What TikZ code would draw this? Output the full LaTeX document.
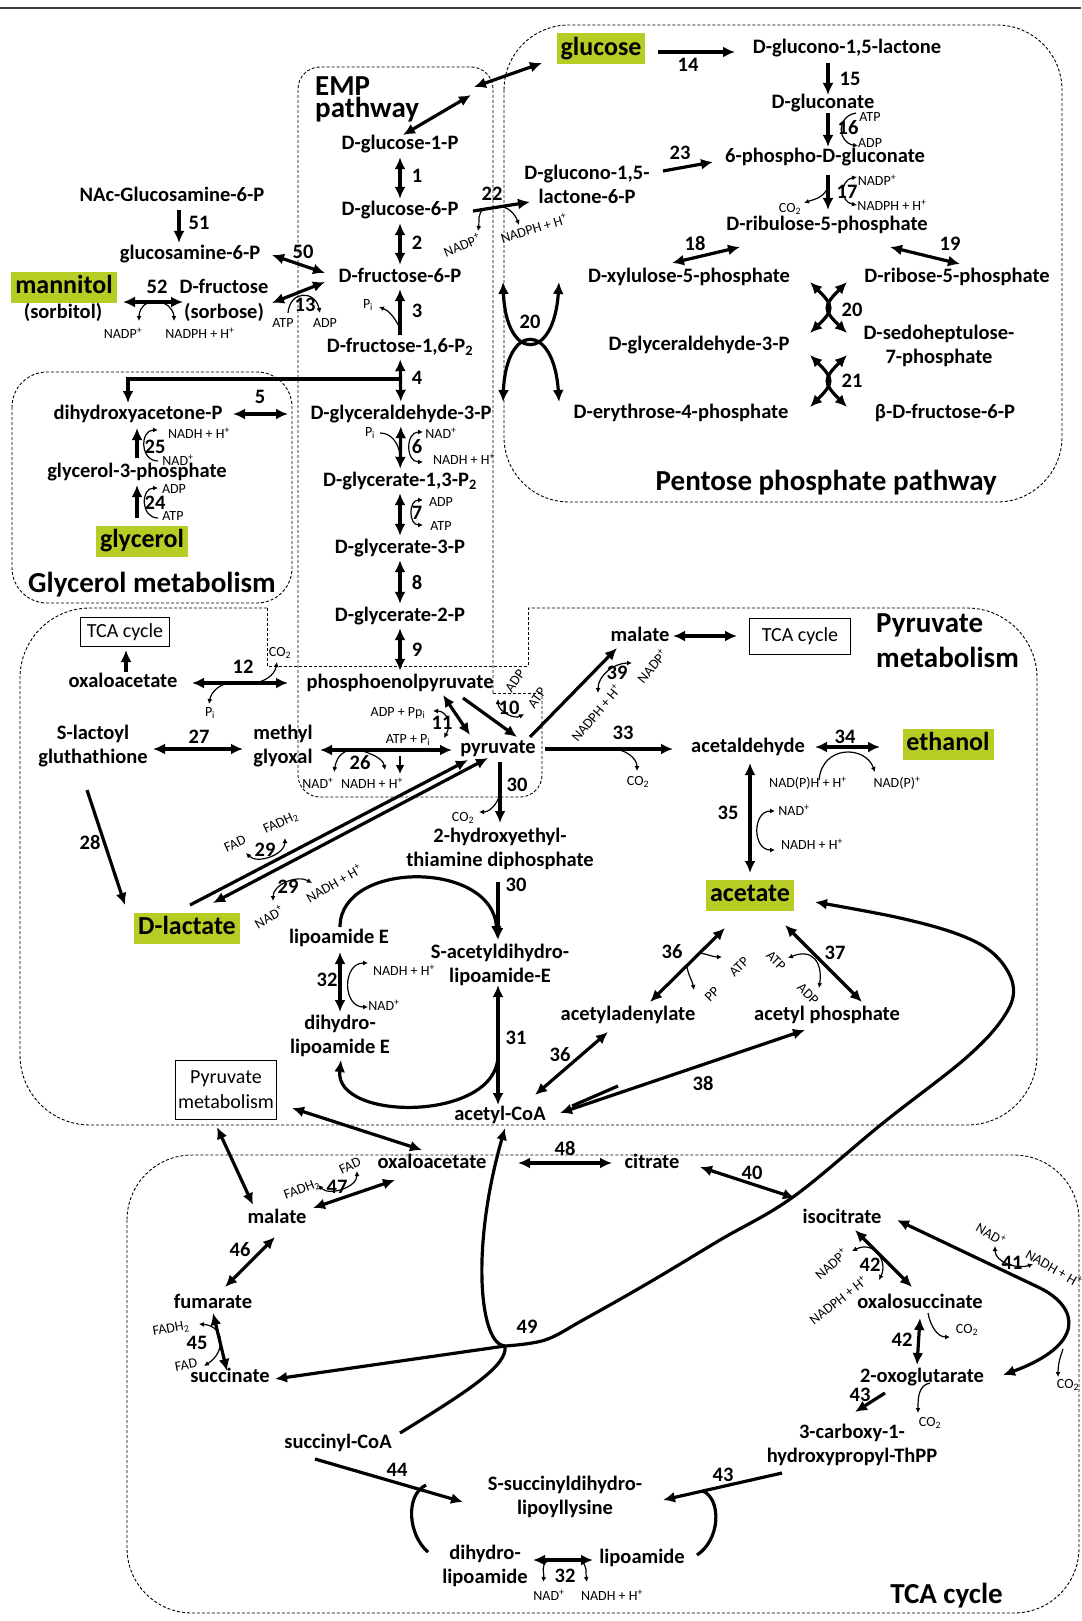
\documentclass[tikz,border=0pt]{standalone}
\usepackage{fontspec}
\setmainfont{Carlito}
\usetikzlibrary{arrows.meta}
\definecolor{prodgreen}{RGB}{184,204,38}
\tikzset{
    met/.style = {font=\bfseries\fontsize{20.5}{23}\selectfont, inner sep=1pt, text height=14pt, text depth=4pt},
    met-two/.style = {font=\bfseries\fontsize{20.5}{24}\selectfont, inner sep=1pt, align=center},
    prod/.style = {fill=prodgreen, font=\bfseries\fontsize{26}{28}\selectfont, inner xsep=4pt, inner ysep=4pt, text height=18pt, text depth=5pt},
    num/.style = {font=\bfseries\fontsize{20.5}{23}\selectfont, inner sep=0pt},
    cof/.style = {font=\fontsize{14}{15}\selectfont, inner sep=0pt},
    area/.style = {font=\bfseries\fontsize{29}{31}\selectfont, inner sep=0pt},
    ref-box/.style = {draw, line width=0.9pt, font=\fontsize{20}{25}\selectfont, inner sep=1pt, align=center},
    zone/.style = {dash pattern=on 3pt off 2pt, line width=0.9pt, black},
    fw/.style = {-{Latex[length=12pt,width=11pt]}, line width=3.2pt},
    bw/.style = {{Latex[length=12pt,width=11pt]}-{Latex[length=12pt,width=11pt]}, line width=3.2pt},
    side/.style = {-{Latex[length=5pt,width=5pt]}, line width=1.2pt},
    sides/.style = {{Latex[length=5pt,width=5pt]}-{Latex[length=5pt,width=5pt]}, line width=1.2pt},
}

\begin{document}
\begin{tikzpicture}[x=1pt, y=-1pt]
\useasboundingbox (0,0) rectangle (1081,1621);
\draw[line width=1.8pt, black!75] (0,8) -- (1081,8);

\draw[zone, rounded corners=65pt] (504,25) rectangle (1062,502);
\draw[zone, rounded corners=22pt] (493,693) -- (493,67) -- (298,67) -- (298,797) -- (542,797) -- (542,693);
\draw[zone] (493,693) -- (542,693);
\draw[zone, rounded corners=35pt] (12,372) rectangle (292,603);
\draw[zone, rounded corners=70pt] (267,608) -- (20,608) -- (20,1125) -- (1037,1125) -- (1037,608) -- (528,608);
\draw[zone] (267,608) -- (267,666) -- (528,666) -- (528,608);
\draw[zone, rounded corners=65pt] (127,1155) rectangle (1079,1613);

\node[area, anchor=base west] (temp1) at (315,96) {EMP};
\node[area, anchor=base west] (temp2) at (315,118) {pathway};
\node[area, anchor=base] (tglyc) at (152,592) {Glycerol metabolism};
\node[area, anchor=base east] (tppp) at (997,490) {Pentose phosphate pathway};
\node[area, anchor=base west] (tpyr1) at (876,632) {Pyruvate};
\node[area, anchor=base west] (tpyr2) at (876,667) {metabolism};
\node[area, anchor=base east] (ttca) at (1003,1603) {TCA cycle};

\node[met] (g1p) at (400,145) {D-glucose-1-P};
\node[met] (g6p) at (400,211) {D-glucose-6-P};
\node[met] (f6p) at (400,277) {D-fructose-6-P};
\node[met] (fbp) at (400,347) {D-fructose-1,6-P\textsubscript{2}};
\node[met] (gap) at (401,414) {D-glyceraldehyde-3-P};
\node[met] (bpg) at (400,481) {D-glycerate-1,3-P\textsubscript{2}};
\node[met] (pg3) at (400,548) {D-glycerate-3-P};
\node[met] (pg2) at (400,616) {D-glycerate-2-P};
\node[met] (pep) at (400,683) {phosphoenolpyruvate};
\node[met] (pyr) at (498,748) {pyruvate};

\node[met] (nacg) at (172,197) {NAc-Glucosamine-6-P};
\node[met] (gam6p) at (190,255) {glucosamine-6-P};
\node[prod] (mtl) at (64,287) {mannitol};
\node[met] (sorbitol) at (63,313) {(sorbitol)};
\node[met] (fru) at (224,288) {D-fructose};
\node[met] (sorbose) at (224,313) {(sorbose)};
\node[met] (dhap) at (138,414) {dihydroxyacetone-P};
\node[met] (gro3p) at (137,472) {glycerol-3-phosphate};
\node[prod] (glyc) at (142,541) {glycerol};

\node[prod] (glc) at (601,49) {glucose};
\node[met] (gl15) at (847,49) {D-glucono-1,5-lactone};
\node[met] (glcn) at (823,104) {D-gluconate};
\node[met] (pgl) at (825,158) {6-phospho-D-gluconate};
\node[met] (ru5p) at (827,226) {D-ribulose-5-phosphate};
\node[met-two] (gl6p) at (587,184) {D-glucono-1,5-\\lactone-6-P};
\node[met] (xu5p) at (689,278) {D-xylulose-5-phosphate};
\node[met] (r5p) at (957,278) {D-ribose-5-phosphate};
\node[met] (gapR) at (699,345) {D-glyceraldehyde-3-P};
\node[met-two] (s7p) at (939,346) {D-sedoheptulose-\\7-phosphate};
\node[met] (e4p) at (681,413) {D-erythrose-4-phosphate};
\node[met] (bf6p) at (945,413) {β-D-fructose-6-P};

\node[ref-box, minimum width=89pt, minimum height=29pt] (tcaA) at (125,632) {TCA cycle};
\node[met] (oaaA) at (123,682) {oxaloacetate};
\node[met-two] (slg) at (93,746) {S-lactoyl\\gluthathione};
\node[met-two] (mgo) at (283,746) {methyl\\glyoxal};
\node[prod] (dlac) at (187,928) {D-lactate};
\node[met] (mal1) at (640,636) {malate};
\node[ref-box, minimum width=101pt, minimum height=36pt] (tcaB) at (800,636) {TCA cycle};
\node[met] (acald) at (748,747) {acetaldehyde};
\node[prod] (etoh) at (948,744) {ethanol};
\node[prod] (ace) at (750,895) {acetate};
\node[met-two] (hetpp) at (500,849) {2-hydroxyethyl-\\thiamine diphosphate};
\node[met] (lipE) at (339,938) {lipoamide E};
\node[met-two] (sacl) at (500,965) {S-acetyldihydro-\\lipoamide-E};
\node[met-two] (dhlE) at (340,1036) {dihydro-\\lipoamide E};
\node[met] (acadn) at (628,1015) {acetyladenylate};
\node[met] (acp) at (827,1015) {acetyl phosphate};
\node[met] (accoa) at (500,1115) {acetyl-CoA};
\node[ref-box, minimum width=101pt, minimum height=59pt] (pmb) at (226,1090) {Pyruvate\\metabolism};

\node[met] (oaa) at (432,1163) {oxaloacetate};
\node[met] (cit) at (652,1163) {citrate};
\node[met] (icit) at (842,1218) {isocitrate};
\node[met] (mal) at (277,1218) {malate};
\node[met] (fum) at (213,1303) {fumarate};
\node[met] (succ) at (230,1377) {succinate};
\node[met] (oxs) at (920,1303) {oxalosuccinate};
\node[met] (akg) at (922,1377) {2-oxoglutarate};
\node[met] (scoa) at (338,1443) {succinyl-CoA};
\node[met-two] (cthpp) at (852,1445) {3-carboxy-1-\\hydroxypropyl-ThPP};
\node[met-two] (ssdl) at (565,1497) {S-succinyldihydro-\\lipoyllysine};
\node[met-two] (dhl) at (485,1566) {dihydro-\\lipoamide};
\node[met] (lip) at (642,1558) {lipoamide};

\node[num] (n1) at (417,176) {1};
\node[num] (n2) at (417,243) {2};
\node[num] (n3) at (417,311) {3};
\node[num] (n4) at (417,378) {4};
\node[num] (n5) at (260,397) {5};
\node[num] (n6) at (417,447) {6};
\node[num] (n7) at (417,513) {7};
\node[num] (n8) at (417,582) {8};
\node[num] (n9) at (417,650) {9};
\node[num] (n10) at (509,708) {10};
\node[num] (n11) at (442,723) {11};
\node[num] (n12) at (243,667) {12};
\node[num] (n13) at (305,305) {13};
\node[num] (n14) at (688,65) {14};
\node[num] (n15) at (850,79) {15};
\node[num] (n16) at (848,128) {16};
\node[num] (n17) at (847,192) {17};
\node[num] (n18) at (695,243) {18};
\node[num] (n19) at (950,244) {19};
\node[num] (n20a) at (530,322) {20};
\node[num] (n20b) at (852,310) {20};
\node[num] (n21) at (852,381) {21};
\node[num] (n22) at (492,194) {22};
\node[num] (n23) at (680,153) {23};
\node[num] (n24) at (155,503) {24};
\node[num] (n25) at (155,447) {25};
\node[num] (n26) at (360,763) {26};
\node[num] (n27) at (199,737) {27};
\node[num] (n28) at (90,842) {28};
\node[num] (n29a) at (265,850) {29};
\node[num] (n29b) at (288,887) {29};
\node[num] (n30a) at (517,785) {30};
\node[num] (n30b) at (516,885) {30};
\node[num] (n31) at (516,1038) {31};
\node[num] (n32a) at (327,980) {32};
\node[num] (n33) at (623,733) {33};
\node[num] (n34) at (845,737) {34};
\node[num] (n35) at (728,813) {35};
\node[num] (n36a) at (672,952) {36};
\node[num] (n36b) at (560,1055) {36};
\node[num] (n37) at (835,953) {37};
\node[num] (n38) at (703,1083) {38};
\node[num] (n39) at (617,673) {39};
\node[num] (n40) at (752,1173) {40};
\node[num] (n41) at (1012,1263) {41};
\node[num] (n42a) at (870,1265) {42};
\node[num] (n42b) at (902,1340) {42};
\node[num] (n43a) at (860,1395) {43};
\node[num] (n43b) at (723,1475) {43};
\node[num] (n44) at (397,1470) {44};
\node[num] (n45) at (197,1343) {45};
\node[num] (n46) at (240,1250) {46};
\node[num] (n47) at (337,1187) {47};
\node[num] (n48) at (565,1148) {48};
\node[num] (n49) at (527,1327) {49};
\node[num] (n50) at (303,252) {50};
\node[num] (n51) at (199,223) {51};
\node[num] (n52) at (157,287) {52};
\node[num] (n32b) at (565,1576) {32};

\node[cof] (c52a) at (123,333) {NADP\textsuperscript{+}};
\node[cof] (c52b) at (200,333) {NADPH + H\textsuperscript{+}};
\node[cof] (c13a) at (283,323) {ATP};
\node[cof] (c13b) at (325,323) {ADP};
\node[cof] (c3) at (368,305) {P\textsubscript{i}};
\node[cof, rotate=22] (c22a) at (462,245) {NADP\textsuperscript{+}};
\node[cof, rotate=17] (c22b) at (534,228) {NADPH + H\textsuperscript{+}};
\node[cof] (c16a) at (870,117) {ATP};
\node[cof] (c16b) at (870,143) {ADP};
\node[cof] (c17a) at (877,180) {NADP\textsuperscript{+}};
\node[cof] (c17b) at (892,205) {NADPH + H\textsuperscript{+}};
\node[cof] (c17c) at (790,209) {CO\textsubscript{2}};
\node[cof] (c25a) at (199,433) {NADH + H\textsuperscript{+}};
\node[cof] (c25b) at (178,460) {NAD\textsuperscript{+}};
\node[cof] (c24a) at (174,489) {ADP};
\node[cof] (c24b) at (173,516) {ATP};
\node[cof] (c6a) at (370,433) {P\textsubscript{i}};
\node[cof] (c6b) at (441,433) {NAD\textsuperscript{+}};
\node[cof] (c6c) at (464,459) {NADH + H\textsuperscript{+}};
\node[cof] (c7a) at (441,502) {ADP};
\node[cof] (c7b) at (441,526) {ATP};
\node[cof] (c12a) at (280,653) {CO\textsubscript{2}};
\node[cof] (c12b) at (210,713) {P\textsubscript{i}};
\node[cof, rotate=55] (c10a) at (515,681) {ADP};
\node[cof, rotate=55] (c10b) at (537,698) {ATP};
\node[cof] (c11a) at (398,713) {ADP + Pp\textsubscript{i}};
\node[cof] (c11b) at (408,740) {ATP + P\textsubscript{i}};
\node[cof] (c26a) at (318,783) {NAD\textsuperscript{+}};
\node[cof] (c26b) at (372,783) {NADH + H\textsuperscript{+}};
\node[cof] (c33) at (638,782) {CO\textsubscript{2}};
\node[cof, rotate=50] (c39a) at (652,666) {NADP\textsuperscript{+}};
\node[cof, rotate=50] (c39b) at (596,713) {NADPH + H\textsuperscript{+}};
\node[cof] (c34a) at (808,783) {NAD(P)H + H\textsuperscript{+}};
\node[cof] (c34b) at (897,783) {NAD(P)\textsuperscript{+}};
\node[cof] (c30) at (463,818) {CO\textsubscript{2}};
\node[cof, rotate=25] (c29a) at (235,844) {FAD};
\node[cof, rotate=25] (c29b) at (281,823) {FADH\textsubscript{2}};
\node[cof, rotate=30] (c29c) at (269,917) {NAD\textsuperscript{+}};
\node[cof, rotate=30] (c29d) at (334,883) {NADH + H\textsuperscript{+}};
\node[cof] (c35a) at (794,810) {NAD\textsuperscript{+}};
\node[cof] (c35b) at (812,844) {NADH + H\textsuperscript{+}};
\node[cof] (c32a) at (404,970) {NADH + H\textsuperscript{+}};
\node[cof] (c32b) at (384,1005) {NAD\textsuperscript{+}};
\node[cof, rotate=45] (c36a) at (712,994) {PP};
\node[cof, rotate=45] (c36b) at (739,967) {ATP};
\node[cof, rotate=-45] (c37a) at (776,961) {ATP};
\node[cof, rotate=-45] (c37b) at (808,994) {ADP};
\node[cof, rotate=20] (c47a) at (302,1190) {FADH\textsubscript{2}};
\node[cof, rotate=25] (c47b) at (350,1166) {FAD};
\node[cof, rotate=10] (c45a) at (171,1329) {FADH\textsubscript{2}};
\node[cof, rotate=10] (c45b) at (186,1365) {FAD};
\node[cof, rotate=42] (c42a) at (831,1264) {NADP\textsuperscript{+}};
\node[cof, rotate=38] (c42b) at (838,1300) {NADPH + H\textsuperscript{+}};
\node[cof] (c42c) at (967,1330) {CO\textsubscript{2}};
\node[cof, rotate=-30] (c41a) at (991,1234) {NAD\textsuperscript{+}};
\node[cof, rotate=-30] (c41b) at (1054,1268) {NADH + H\textsuperscript{+}};
\node[cof] (c41c) at (1068,1385) {CO\textsubscript{2}};
\node[cof] (c43) at (930,1423) {CO\textsubscript{2}};
\node[cof] (c32c) at (549,1595) {NAD\textsuperscript{+}};
\node[cof] (c32d) at (612,1595) {NADH + H\textsuperscript{+}};

\coordinate (jg1) at (474,87);
\coordinate (jg2) at (471,95);
\coordinate (j4) at (400,379);
\coordinate (j49) at (505,1346);

\draw[bw] ([shift={(-59,14)}]glc.center) -- (jg1);
\draw[bw] (jg2) -- ([shift={(3,-10)}]g1p.center);
\draw[bw, shorten <=2pt, shorten >=2pt] (g1p) -- (g6p);
\draw[bw, shorten <=2pt, shorten >=2pt] (g6p) -- (f6p);
\draw[fw, shorten <=2pt, shorten >=2pt] (fbp) -- (f6p);
\draw[bw, shorten <=2pt, shorten >=2pt] (fbp) -- (gap);
\draw[bw, shorten <=2pt, shorten >=2pt] (gap) -- (bpg);
\draw[bw, shorten <=2pt, shorten >=2pt] (bpg) -- (pg3);
\draw[bw, shorten <=2pt, shorten >=2pt] (pg3) -- (pg2);
\draw[bw, shorten <=2pt, shorten >=2pt] (pg2) -- (pep);
\draw[fw] (j4) -| ([shift={(-10,-11)}]dhap.center);
\draw[bw] ([shift={(95,0)}]dhap.center) -- ([shift={(-113,0)}]gap.center);
\draw[side] (399,326) to[out=120,in=-20] (379,307);
\draw[line width=1.2pt] (380,433) to[out=0,in=100] (400,454);
\draw[sides] (423,432) to[out=180,in=180,looseness=1.5] (423,462);
\draw[sides] (423,500) to[out=180,in=180,looseness=1.5] (423,525);

\draw[fw] ([shift={(7,13)}]nacg.center) -- ([shift={(-11,-12)}]gam6p.center);
\draw[bw] ([shift={(82,0)}]gam6p.center) -- ([shift={(-75,-4)}]f6p.center);
\draw[bw] ([shift={(59,15)}]mtl.center) -- ([shift={(-41,14)}]fru.center);
\draw[side] (148,303) to[out=200,in=90] (139,321);
\draw[side] (163,303) to[out=-20,in=90] (174,321);
\draw[bw] ([shift={(48,-10)}]sorbose.center) -- ([shift={(-75,5)}]f6p.center);
\draw[side] (288,313) .. controls (290,290) and (315,290) .. (320,313);
\draw[fw] ([shift={(0,-14)}]gro3p.center) -- ([shift={(-1,14)}]dhap.center);
\draw[side] (158,461) to[out=180,in=180,looseness=1.5] (158,430);
\draw[fw] ([shift={(-5,-23)}]glyc.center) -- ([shift={(0,13)}]gro3p.center);
\draw[side] (158,518) to[out=180,in=180,looseness=1.5] (158,488);

\draw[fw] ([shift={(57,3)}]glc.center) -- ([shift={(-112,3)}]gl15.center);
\draw[fw] ([shift={(-19,14)}]gl15.center) -- ([shift={(5,-9)}]glcn.center);
\draw[fw] ([shift={(5,9)}]glcn.center) -- ([shift={(3,-11)}]pgl.center);
\draw[side] (856,113) to[out=190,in=170,looseness=1.6] (858,146);
\draw[fw] ([shift={(3,17)}]pgl.center) -- ([shift={(1,-16)}]ru5p.center);
\draw[sides] (857,177) to[out=190,in=170,looseness=1.6] (857,205);
\draw[side] (828,187) to[out=250,in=20] (804,203);
\draw[bw] ([shift={(-17,-15)}]xu5p.center) -- ([shift={(-87,21)}]ru5p.center);
\draw[bw] ([shift={(63,21)}]ru5p.center) -- ([shift={(3,-14)}]r5p.center);
\draw[fw] ([shift={(73,0)}]g6p.center) -- ([shift={(-57,18)}]gl6p.center);
\draw[side] (485,209) to[out=200,in=80] (478,231);
\draw[side] (497,207) to[out=10,in=110] (519,225);
\draw[fw] ([shift={(76,-13)}]gl6p.center) -- ([shift={(-112,4)}]pgl.center);
\draw[bw] (503,282) .. controls (506,362) and (554,362) .. (559,282);
\draw[bw] (503,402) .. controls (506,322) and (554,322) .. (559,402);
\draw[bw] (810,282) .. controls (834,306) and (834,310) .. (810,333);
\draw[bw] (847,282) .. controls (823,306) and (823,310) .. (847,333);
\draw[bw] (810,355) .. controls (834,379) and (834,383) .. (810,407);
\draw[bw] (847,355) .. controls (823,379) and (823,383) .. (847,407);

\draw[bw] ([shift={(69,1)}]oaaA.center) -- ([shift={(-112,0)}]pep.center);
\draw[side] (229,683) to[out=190,in=80] (209,704);
\draw[side] (251,683) to[out=0,in=-100] (277,662);
\draw[fw] ([shift={(3,-10)}]oaaA.center) -- ([shift={(1,18)}]tcaA.center);
\draw[bw] ([shift={(60,3)}]slg.center) -- ([shift={(-40,3)}]mgo.center);
\draw[bw] ([shift={(37,4)}]mgo.center) -- ([shift={(-46,2)}]pyr.center);
\draw[side] (347,751) to[out=200,in=80] (334,772);
\draw[side] (363,751) to[out=-20,in=100] (385,770);
\draw[-{Latex[length=9pt,width=9pt]}, line width=2.5pt] (400,756) -- (400,774);
\draw[fw] ([shift={(-6,44)}]slg.center) -- ([shift={(-62,-23)}]dlac.center);
\draw[fw] ([shift={(3,-23)}]dlac.center) -- ([shift={(-30,12)}]pyr.center);
\draw[bw] ([shift={(-10,10)}]pyr.center) -- ([shift={(26,-25)}]dlac.center);
\draw[sides] (246,853) to[out=-45,in=-90] (285,838);
\draw[sides] (273,901) to[out=90,in=150] (312,883);
\draw[fw] ([shift={(63,15)}]pep.center) -- ([shift={(19,-11)}]pyr.center);
\draw[sides] (498,699) to[out=-90,in=210] (524,714);
\draw[bw] ([shift={(43,12)}]pep.center) -- ([shift={(-28,-13)}]pyr.center);
\draw[sides] (433,711) to[out=0,in=60,looseness=1.3] (444,738);

\draw[fw] ([shift={(2,14)}]pyr.center) -- ([shift={(0,-26)}]hetpp.center);
\draw[side] (500,795) to[out=-110,in=0] (479,812);
\draw[fw] ([shift={(-2,33)}]hetpp.center) -- ([shift={(-2,-25)}]sacl.center);
\draw[fw] ([shift={(1,-11)}]lipE.center) .. controls (340,860) and (493,860) .. ([shift={(-3,-27)}]sacl.center);
\draw[bw] ([shift={(-2,20)}]sacl.center) -- ([shift={(-2,-10)}]accoa.center);
\draw[fw] ([shift={(-2,90)}]sacl.center) .. controls (498,1122) and (334,1122) .. ([shift={(1,24)}]dhlE.center);
\draw[bw] ([shift={(1,14)}]lipE.center) -- ([shift={(0,-24)}]dhlE.center);
\draw[sides] (368,963) to[out=180,in=180,looseness=1.5] (368,1007);

\draw[fw] ([shift={(47,1)}]pyr.center) -- ([shift={(-75,2)}]acald.center);
\draw[side] (612,749) to[out=0,in=90] (637,771);
\draw[fw] ([shift={(32,-11)}]pyr.center) -- ([shift={(-23,12)}]mal1.center);
\draw[sides] (598,693) to[out=90,in=180] (632,663);
\draw[bw] ([shift={(33,0)}]mal1.center) -- ([shift={(-63,0)}]tcaB.center);
\draw[bw] ([shift={(67,0)}]acald.center) -- ([shift={(-68,3)}]etoh.center);
\draw[side] (819,780) .. controls (822,745) and (865,745) .. (875,772);
\draw[bw] ([shift={(2,16)}]acald.center) -- ([shift={(0,-22)}]ace.center);
\draw[sides] (775,811) to[out=180,in=180,looseness=1.5] (775,850);
\draw[bw] ([shift={(22,-13)}]acadn.center) -- ([shift={(-25,33)}]ace.center);
\draw[side] (700,953) to[out=-10,in=180] (722,957);
\draw[side] (687,967) to[out=-80,in=100] (694,990);
\draw[bw] ([shift={(-20,17)}]acadn.center) -- ([shift={(35,-20)}]accoa.center);
\draw[bw] ([shift={(35,30)}]ace.center) -- ([shift={(35,-13)}]acp.center);
\draw[sides] (788,958) .. controls (812,948) and (823,962) .. (819,988);
\draw[bw] ([shift={(-22,15)}]acp.center) -- ([shift={(60,-2)}]accoa.center);
\draw[line width=3.2pt] (618,1086) -- (572,1106);

\draw[bw] ([shift={(-10,-13)}]oaa.center) -- ([shift={(66,18)}]pmb.center);
\draw[bw] ([shift={(-9,37)}]pmb.center) -- ([shift={(-24,-13)}]mal.center);
\draw[bw] ([shift={(-37,17)}]oaa.center) -- ([shift={(36,-10)}]mal.center);
\draw[sides] (318,1185) to[out=-45,in=-90] (357,1171);
\draw[bw] ([shift={(86,0)}]oaa.center) -- ([shift={(-40,0)}]cit.center);
\draw[bw] ([shift={(48,4)}]cit.center) -- ([shift={(-47,-20)}]icit.center);
\draw[bw] ([shift={(-2,19)}]mal.center) -- ([shift={(12,-16)}]fum.center);
\draw[bw] ([shift={(0,10)}]fum.center) -- ([shift={(-3,-6)}]succ.center);
\draw[sides] (199,1324) .. controls (225,1326) and (226,1352) .. (204,1366);
\draw[bw] ([shift={(13,12)}]icit.center) -- ([shift={(-8,-16)}]oxs.center);
\draw[sides] (852,1251) .. controls (875,1240) and (888,1262) .. (879,1280);
\draw[bw] ([shift={(0,15)}]oxs.center) -- ([shift={(-5,-12)}]akg.center);
\draw[side] (928,1313) to[out=-80,in=180] (950,1337);
\draw[fw] ([shift={(-37,16)}]akg.center) -- ([shift={(3,-33)}]cthpp.center);
\draw[side] (930,1383) to[out=190,in=90] (918,1413);
\draw[bw] ([shift={(55,2)}]icit.center) -- (1040,1288) .. controls (1080,1308) and (1085,1345) .. ([shift={(81,-2)}]akg.center);
\draw[sides] (995,1246) to[out=-90,in=200] (1033,1264);
\draw[side] (1063,1349) to[out=-110,in=90] (1058,1377);
\draw[fw] ([shift={(-70,28)}]cthpp.center) -- ([shift={(98,3)}]ssdl.center);
\draw[line width=3.2pt] ([shift={(55,-3)}]lip.center) .. controls (720,1540) and (722,1500) .. (703,1491);
\draw[fw] ([shift={(-23,16)}]scoa.center) -- ([shift={(-102,5)}]ssdl.center);
\draw[line width=3.2pt] ([shift={(-57,-14)}]dhl.center) .. controls (408,1535) and (405,1495) .. (426,1485);
\draw[bw] ([shift={(48,-6)}]dhl.center) -- ([shift={(-49,2)}]lip.center);
\draw[side] (548,1561) to[out=200,in=80] (543,1582);
\draw[side] (580,1561) to[out=-20,in=100] (587,1582);

\draw[fw] (j49) .. controls (480,1345) and (470,1250) .. ([shift={(5,13)}]accoa.center);
\draw[fw] (j49) -- ([shift={(45,2)}]succ.center);
\draw[line width=3.2pt] (j49) .. controls (508,1365) and (470,1390) .. ([shift={(62,-10)}]scoa.center);
\draw[fw] plot[smooth, tension=0.6] coordinates {(j49) (545,1340) (583,1320) (650,1282) (720,1240) (793,1197) (883,1123) (967,1057) (1005,1015) (1013,985) (995,955) (960,935) (900,918) (815,902)};
\end{tikzpicture}
\end{document}
